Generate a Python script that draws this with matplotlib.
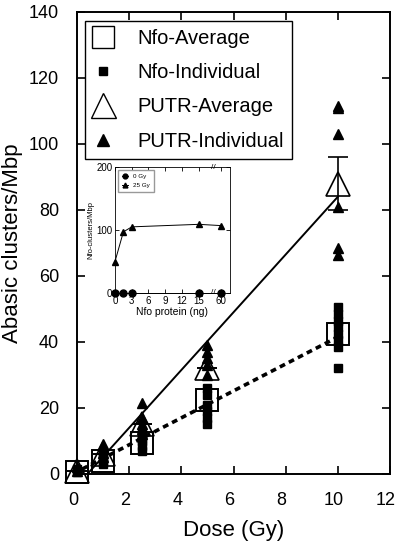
#!/usr/bin/env python3

import numpy as np
import matplotlib.pyplot as plt
import matplotlib.transforms as mtransforms
from matplotlib.lines import Line2D

plt.rcParams['font.family'] = ['Liberation Sans', 'DejaVu Sans']

# main plot data
dose_avg = [0.0, 1.0, 2.5, 5.0, 10.0]
nfo_avg = [0.5, 4.0, 9.5, 22.5, 42.5]
putr_avg = [1.0, 6.0, 15.0, 32.0, 88.0]
putr_err = [0.0, 0.0, 0.0, 0.0, 8.0]

nfo_ind_dose = [0.0, 0.0, 1.0, 1.0, 1.0, 1.0, 2.5, 2.5, 2.5, 2.5, 2.5,
                5.0, 5.0, 5.0, 5.0, 5.0, 5.0,
                10.0, 10.0, 10.0, 10.0, 10.0, 10.0, 10.0, 10.0]
nfo_ind = [0.5, 1.5, 3.0, 4.0, 5.0, 6.0, 7.0, 8.5, 10.0, 11.0, 12.5,
           15.0, 17.0, 19.0, 21.0, 24.0, 26.0,
           32.0, 38.5, 40.5, 42.5, 44.5, 46.5, 48.5, 50.5]

putr_ind_dose = [0.0, 0.0, 1.0, 1.0, 1.0, 1.0, 2.5, 2.5, 2.5, 2.5, 2.5,
                 5.0, 5.0, 5.0, 5.0, 5.0,
                 10.0, 10.0, 10.0, 10.0, 10.0, 10.0]
putr_ind = [1.0, 2.0, 5.0, 6.5, 7.5, 9.0, 12.0, 13.5, 15.0, 17.0, 21.5,
            30.0, 33.0, 35.0, 37.0, 39.0,
            66.5, 68.5, 81.0, 103.0, 111.0, 111.5]

# fitted lines
putr_fit_x = [0.4, 10.0]
putr_fit_y = [0.0, 84.0]
nfo_fit_x = [0.2, 10.0]
nfo_fit_y = [1.5, 41.5]

# inset data (60 ng drawn at position 19 after the axis break)
inset_pos = [0, 1.5, 3, 15, 19]
inset_ticks = [0, 3, 6, 9, 12, 15, 19]
inset_ticklabels = ['0', '3', '6', '9', '12', '15', '60']
inset_0gy = [0, 0, 0, 0, 0]
inset_25gy = [50, 97, 105, 109, 107]

fig = plt.figure(figsize=(4.0, 5.44), dpi=100)
ax = fig.add_axes([0.1925, 0.1287, 0.7825, 0.8493])

ax.plot(putr_fit_x, putr_fit_y, color='black', lw=1.4, zorder=2)
ax.plot(nfo_fit_x, nfo_fit_y, color='black', lw=2.6, linestyle=(0, (1.6, 1.2)), zorder=2)

ax.plot(dose_avg, nfo_avg, linestyle='none', marker='s', markersize=16,
        mfc='none', mec='black', mew=1.4, clip_on=False, zorder=3)
ax.errorbar(dose_avg, putr_avg, yerr=putr_err, fmt='^', markersize=17,
            mfc='none', mec='black', mew=1.2, ecolor='black', elinewidth=1.2,
            capsize=7, capthick=1.2, clip_on=False, zorder=3)
ax.plot(nfo_ind_dose, nfo_ind, linestyle='none', marker='s', markersize=6,
        color='black', clip_on=False, zorder=4)
ax.plot(putr_ind_dose, putr_ind, linestyle='none', marker='^', markersize=7,
        color='black', clip_on=False, zorder=4)

ax.set_xlim(0, 12)
ax.set_ylim(0, 140)
ax.set_xticks(np.arange(0, 13, 2))
ax.set_yticks(np.arange(0, 141, 20))
ax.tick_params(direction='in', top=True, right=True, length=6, width=1.2,
               labelsize=13)
ax.tick_params(axis='x', pad=13)
ax.tick_params(axis='y', pad=13)
shift = mtransforms.ScaledTranslation(-4 / 100, 0, fig.dpi_scale_trans)
for lab in ax.get_xticklabels():
    lab.set_transform(lab.get_transform() + shift)
for s in ax.spines.values():
    s.set_linewidth(1.4)
ax.set_xlabel('Dose (Gy)', fontsize=16, labelpad=8)
ax.set_ylabel('Abasic clusters/Mbp', fontsize=16, labelpad=4)

handles = [
    Line2D([], [], linestyle='none', marker='s', markersize=16, mfc='none',
           mec='black', mew=1.0),
    Line2D([], [], linestyle='none', marker='s', markersize=6, color='black'),
    Line2D([], [], linestyle='none', marker='^', markersize=18, mfc='none',
           mec='black', mew=1.0),
    Line2D([], [], linestyle='none', marker='^', markersize=8, color='black'),
]
labels = ['Nfo-Average', 'Nfo-Individual', 'PUTR-Average', 'PUTR-Individual']
leg = ax.legend(handles, labels, loc='upper left', bbox_to_anchor=(0.026, 0.98),
                borderaxespad=0, fontsize=14.5, labelspacing=0.75,
                handlelength=1.0, handletextpad=1.2, borderpad=0.4,
                fancybox=False, edgecolor='black', framealpha=1)
leg.get_frame().set_linewidth(1.0)

# inset
ins = fig.add_axes([0.2875, 0.4614, 0.2875, 0.2316])
ins.plot(inset_pos, inset_0gy, color='black', lw=0.7, marker='o',
         markersize=5, clip_on=False, label='0 Gy')
ins.plot(inset_pos, inset_25gy, color='black', lw=0.7, marker='^',
         markersize=5, clip_on=False, label='25 Gy')
ins.set_xlim(0, 20.6)
ins.set_ylim(0, 200)
ins.set_xticks(inset_ticks)
ins.set_xticklabels(inset_ticklabels)
ins.set_yticks([0, 100, 200])
ins.tick_params(direction='in', top=True, right=True, length=3, width=0.6,
                labelsize=7, pad=2)
for s in ins.spines.values():
    s.set_linewidth(0.6)
ins.set_xlabel('Nfo protein (ng)', fontsize=7.5, labelpad=1)
ins.set_ylabel('Nfo-clusters/Mbp', fontsize=5.5, labelpad=1)
for yb in (0, 200):
    ins.text(17.6, yb, '//', fontsize=6, ha='center', va='center',
             transform=ins.transData, clip_on=False)
ins.legend(loc='upper left', fontsize=4.5, markerscale=0.7, handlelength=1.0,
           fancybox=False, edgecolor='0.6', framealpha=1, borderpad=0.6)

fig.savefig('out.png', dpi=100)
